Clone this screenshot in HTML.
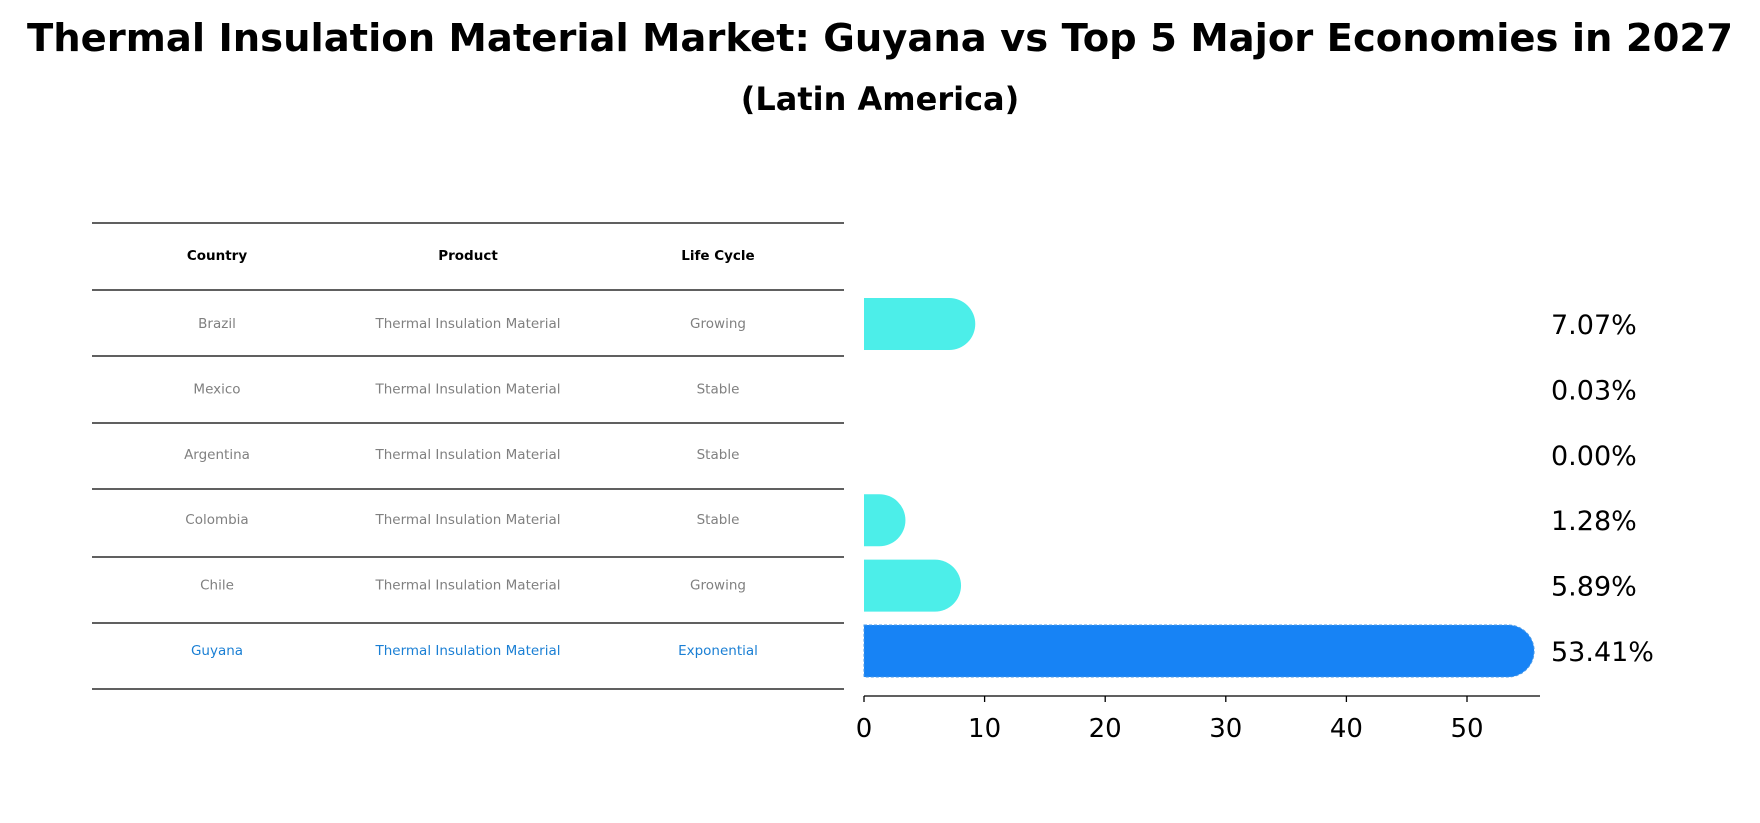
<!DOCTYPE html>
<html><head><meta charset="utf-8"><style>
body{margin:0;background:#fff;font-family:"DejaVu Sans","Liberation Sans",sans-serif}
#wrap{position:relative;width:1760px;height:823px;overflow:hidden}
</style></head><body>
<div id="wrap">
<svg id="svg" width="1760" height="823">
<text x="880" y="51" text-anchor="middle" font-size="38.5" font-weight="bold">Thermal Insulation Material Market: Guyana vs Top 5 Major Economies in 2027</text>
<text x="880" y="110" text-anchor="middle" font-size="32" font-weight="bold">(Latin America)</text>
<g id="table"></g>
<g id="bars"></g>
</svg>
</div>
<script>
const countries=["Brazil","Mexico","Argentina","Colombia","Chile","Guyana"];
const products=["Thermal Insulation Material","Thermal Insulation Material","Thermal Insulation Material","Thermal Insulation Material","Thermal Insulation Material","Thermal Insulation Material"];
const lifecycles=["Growing","Stable","Stable","Stable","Growing","Exponential"];
const values=[7.07,0.03,0.00,1.28,5.89,53.41];
const ticks=[0,10,20,30,40,50];
const NS="http://www.w3.org/2000/svg";
function mk(t,a,p){const e=document.createElementNS(NS,t);for(const k in a)e.setAttribute(k,a[k]);p.appendChild(e);return e;}
const X0=864,PX=12.06;
const xs=v=>X0+v*PX;
const rowY=i=>324+i*65.4;
const tbl=document.getElementById('table');
const lines=[223,290,356,423,489,557,623,689];
lines.forEach((y,i)=>{const l=mk('line',{x1:92,x2:844,y1:y,y2:y,stroke:'#000','stroke-width':1.2},tbl);

});
const cx=[217,468,718];
["Country","Product","Life Cycle"].forEach((h,j)=>{const t=mk('text',{x:cx[j],y:260,'text-anchor':'middle','font-size':13.5,'font-weight':'bold'},tbl);t.textContent=h;

});
countries.forEach((c,i)=>{const col=i===5?'#1a7fd4':'#808080';
[c,products[i],lifecycles[i]].forEach((s,j)=>{const t=mk('text',{x:cx[j],y:rowY(i)+4,'text-anchor':'middle','font-size':13.5,fill:col},tbl);t.textContent=s;

});});
const g=document.getElementById('bars');
values.forEach((v,i)=>{const y=rowY(i),h=52,r=26,x1=xs(v);
if(v>0.05){const col=i===5?'#1783f5':'#4ceee9';
const p=mk('path',{d:`M${X0} ${y-h/2} H${x1} A${r} ${r} 0 0 1 ${x1} ${y+h/2} H${X0} Z`,fill:col},g);
if(i===5){p.setAttribute('stroke','#4a9ae8');p.setAttribute('stroke-dasharray','3 2');}

}
const t=mk('text',{x:1551,y:y+10,'font-size':27},g);t.textContent=v.toFixed(2)+'%';

});
const ax=mk('line',{x1:X0,x2:1540,y1:696,y2:696,stroke:'#000','stroke-width':1.3},g);


ticks.forEach(tk=>{const x=xs(tk);mk('line',{x1:x,x2:x,y1:696,y2:702,stroke:'#000','stroke-width':1.3},g);
const t=mk('text',{x:x,y:737,'text-anchor':'middle','font-size':26},g);t.textContent=tk;

});
</script>
</body></html>
